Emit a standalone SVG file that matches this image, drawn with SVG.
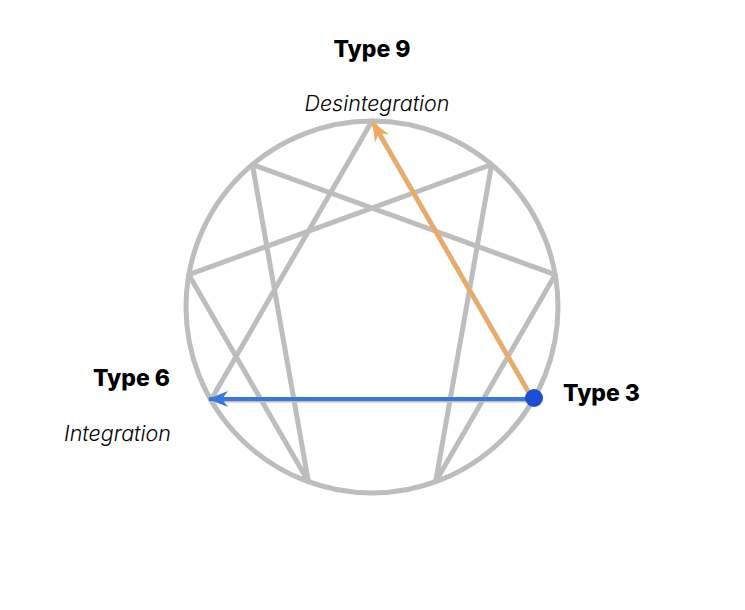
<svg xmlns="http://www.w3.org/2000/svg" width="745" height="610" viewBox="0 0 745 610">
<style>
.g{fill:none;stroke:#bdbdbd;stroke-width:5;stroke-linejoin:round;stroke-linecap:round}
.t{font-family:Inter,"Liberation Sans",sans-serif;font-weight:800;font-size:23px;fill:#000}
.s{font-family:Inter,"Liberation Sans",sans-serif;font-weight:300;font-style:italic;font-size:21.5px;fill:#000}
</style>
<defs>
<marker id="ao" viewBox="0 0 20 16" refX="19" refY="8" markerWidth="20" markerHeight="16" markerUnits="userSpaceOnUse" orient="auto"><path d="M0,0 L20,8 L0,16 L6,8 Z" fill="#f0aa60"/></marker>
<marker id="ab" viewBox="0 0 20 16" refX="19" refY="8" markerWidth="20" markerHeight="16" markerUnits="userSpaceOnUse" orient="auto"><path d="M0,0 L20,8 L0,16 L6,8 Z" fill="#3a78e0"/></marker>
</defs>
<g id="enneagram">
<circle class="g" cx="372" cy="307" r="186"/>
<polyline class="g" points="491.6,164.5 435.6,481.8 555.2,274.7 252.4,164.5 308.4,481.8 188.8,274.7 491.6,164.5"/>
<polyline class="g" points="372,121 533.1,400 210.9,400 372,121"/>
</g>
<g id="connectors">
<line x1="533" y1="400" x2="372.5" y2="122" stroke="#f0aa60" stroke-width="4" marker-end="url(#ao)"/>
<line x1="533" y1="399" x2="209" y2="399" stroke="#3a78e0" stroke-width="4" marker-end="url(#ab)"/>
</g>
<g id="type9"><text class="t" x="372" y="57" text-anchor="middle">Type 9</text><text class="s" x="377" y="111" text-anchor="middle">Desintegration</text></g>
<g id="type6"><text class="t" x="170" y="386" text-anchor="end">Type 6</text><text class="s" x="171" y="441" text-anchor="end">Integration</text></g>
<g id="type3"><circle cx="534" cy="398" r="9" fill="#1a4fd6"/><text class="t" x="563" y="401">Type 3</text></g>
</svg>
